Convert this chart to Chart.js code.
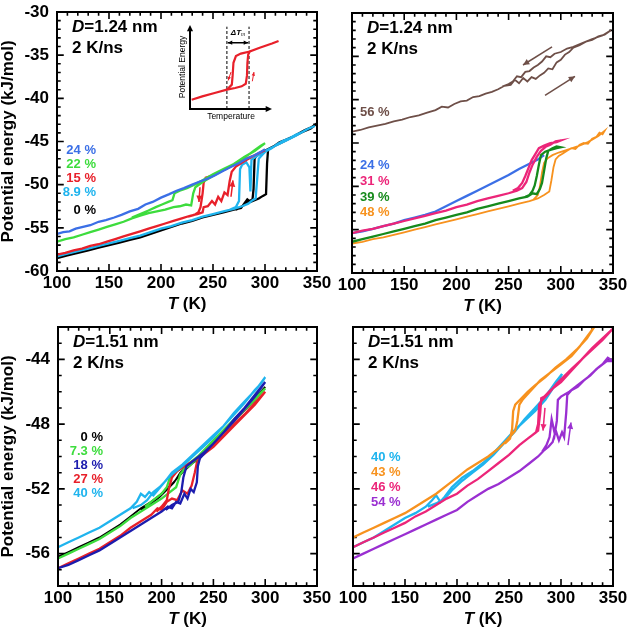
<!DOCTYPE html>
<html>
<head>
<meta charset="utf-8">
<script src="https://cdn.jsdelivr.net/npm/chart.js@4"></script>
<style>
  html, body { margin: 0; padding: 0; background: #fff; }
  body { width: 632px; height: 636px; position: relative; overflow: hidden; }
  canvas { position: absolute; }
</style>
</head>
<body>
<canvas id="c1" width="340" height="320" style="left:0px;top:0px"></canvas>
<canvas id="c2" width="312" height="320" style="left:320px;top:0px"></canvas>
<canvas id="c3" width="340" height="324" style="left:0px;top:312px"></canvas>
<canvas id="c4" width="312" height="324" style="left:320px;top:312px"></canvas>
<canvas id="inset" width="112" height="112" style="left:176px;top:16px"></canvas>
<script>
// tick labels
const xTicks = [100, 150, 200, 250, 300, 350];
const yTicksTop = [-60, -55, -50, -45, -40, -35, -30];
const yTicksBottom = [-56, -52, -48, -44];

// D = 1.24 nm, low concentrations (heating run, then cooling run back)
const d124_24 = [[100,-55.7],[106,-55.5],[112,-55.4],[118,-55.1],[125,-54.9],[132,-54.7],[140,-54.3],[147,-54.1],[155,-53.8],[162,-53.5],[170,-53.1],[178,-52.8],[185,-52.3],[192,-52.0],[200,-51.5],[208,-51.1],[215,-50.7],[222,-50.4],[230,-50.0],[238,-49.6],[245,-49.3],[252,-48.9],[260,-48.4],[268,-47.9],[275,-47.5],[282,-47.0],[290,-46.6],[296,-46.2],[300,-45.9]];
const d124_22 = [[100,-56.6],[108,-56.3],[116,-56.1],[124,-55.8],[132,-55.5],[140,-55.2],[148,-54.9],[156,-54.6],[164,-54.3],[172,-53.9],[180,-53.6],[188,-53.3],[196,-53.1],[204,-52.9],[212,-52.6],[218,-52.5],[224,-52.3],[229,-52.4],[231,-51.0],[233,-50.3],[240,-49.7],[250,-49.0],[260,-48.3],[270,-47.6],[280,-46.9],[290,-46.0],[296,-45.5],[300,-45.2],
  [298,-45.4],[290,-46.1],[280,-46.8],[270,-47.6],[260,-48.2],[250,-48.8],[240,-49.5],[232,-50.0],[225,-50.4],[218,-50.7],[213,-51.0],[211,-51.8],[207,-52.0],[201,-52.3],[195,-52.6],[188,-53.0],[180,-53.4],[172,-53.8]];
const d124_15 = [[100,-58.1],[108,-57.9],[116,-57.6],[124,-57.4],[132,-57.1],[140,-56.9],[148,-56.6],[156,-56.3],[164,-56.0],[172,-55.7],[180,-55.4],[188,-55.1],[196,-54.8],[204,-54.5],[212,-54.2],[220,-53.9],[228,-53.6],[235,-53.4],[240,-53.2],[241,-52.6],[245,-52.5],[249,-51.9],[252,-52.3],[255,-51.4],[258,-51.9],[261,-50.9],[264,-51.2],[266,-49.6],[268,-48.5],[272,-47.9],[280,-47.3],[290,-46.6],[300,-46.0],
  [290,-46.6],[280,-47.1],[270,-47.7],[262,-48.2],[255,-48.6],[248,-49.0],[243,-49.2],[241,-49.8],[240,-51.0],[239,-51.8],[238,-52.6],[236,-53.2],[232,-53.5],[226,-53.7]];
const d124_89 = [[100,-58.3],[110,-58.0],[120,-57.7],[130,-57.4],[140,-57.1],[150,-56.8],[160,-56.5],[170,-56.2],[180,-55.9],[190,-55.5],[200,-55.1],[210,-54.8],[220,-54.4],[230,-54.1],[240,-53.7],[250,-53.4],[260,-53.1],[270,-52.8],[278,-52.5],[284,-52.2],[288,-51.8],[291,-51.6],[293,-48.5],[294,-47.0],[297,-46.6],[300,-46.2],[306,-45.8],[312,-45.3],[318,-44.9],[324,-44.6],[330,-44.2],[336,-43.9],[342,-43.5],[348,-43.2],
  [340,-43.6],[330,-44.3],[320,-44.9],[310,-45.5],[300,-46.1],[292,-46.7],[287,-47.1],[286,-50.8],[285,-48.0],[282,-47.4],[278,-47.7],[276,-48.2],[275,-51.9],[272,-52.6],[266,-52.9]];
const d124_0 = [[100,-58.5],[110,-58.2],[120,-57.9],[130,-57.6],[140,-57.3],[150,-57.0],[160,-56.7],[170,-56.4],[180,-56.1],[190,-55.7],[200,-55.3],[210,-54.9],[220,-54.5],[230,-54.2],[240,-53.8],[250,-53.5],[260,-53.2],[270,-52.9],[277,-52.7],[280,-52.2],[283,-51.7],[286,-52.0],[290,-51.8],[294,-51.6],[298,-51.3],[301,-51.1],[302,-47.5],[303,-45.9],[308,-45.6],[314,-45.1],[320,-44.8],[326,-44.5],[332,-44.1],[338,-43.7],[344,-43.4],[350,-42.9],
  [344,-43.5],[336,-43.9],[326,-44.5],[316,-45.1],[306,-45.7],[298,-46.2],[292,-46.6],[290,-47.0],[289,-50.5],[288,-51.7],[284,-52.0],[278,-52.5],[272,-52.9]];
const arr124_down = [[237.5,-50.3],[236.5,-52.0]];
const arr124_up = [[267.3,-51.4],[269.2,-49.5]];

// D = 1.24 nm, high concentrations
const d124_56 = [[100,-43.7],[108,-43.5],[116,-43.2],[124,-43.0],[132,-42.8],[140,-42.5],[148,-42.3],[156,-42.0],[164,-41.8],[172,-41.5],[180,-41.2],[186,-40.8],[192,-40.9],[198,-40.5],[204,-40.2],[210,-40.1],[216,-39.7],[222,-39.6],[228,-39.3],[234,-39.1],[240,-38.8],[246,-38.4],[252,-38.3],[256,-37.7],[260,-38.1],[264,-37.5],[268,-37.9],[272,-37.4],[276,-37.6],[280,-37.2],[284,-36.9],[288,-36.4],[292,-36.5],[296,-35.7],[300,-35.4],[304,-34.8],[308,-34.5],[312,-34.0],[318,-33.7],[324,-33.3],[330,-33.1],[336,-32.7],[342,-32.5],[348,-32.0],
  [340,-32.6],[330,-33.0],[320,-33.5],[312,-33.9],[306,-34.1],[300,-34.5],[294,-34.7],[290,-35.1],[286,-35.0],[282,-35.6],[278,-36.0],[274,-36.3],[270,-36.7],[266,-36.8],[262,-37.4],[258,-37.3],[254,-37.9],[250,-38.2],[244,-38.5]];
const d124_24b = [[100,-55.4],[110,-55.2],[120,-54.9],[130,-54.6],[140,-54.3],[150,-53.9],[160,-53.6],[170,-53.3],[180,-52.9],[190,-52.3],[200,-51.7],[210,-51.1],[220,-50.5],[230,-49.9],[240,-49.3],[250,-48.7],[260,-48.0],[270,-47.4],[278,-46.9],[284,-46.4]];
const d124_31 = [[100,-55.4],[110,-55.1],[120,-54.9],[130,-54.6],[140,-54.3],[150,-54.0],[160,-53.7],[170,-53.4],[180,-53.1],[190,-52.8],[200,-52.4],[210,-52.1],[220,-51.7],[230,-51.4],[240,-51.1],[250,-50.8],[258,-50.5],[263,-50.2],[267,-49.5],[270,-48.4],[273,-47.5],[277,-46.6],[281,-45.9],[286,-45.4],[290,-45.2],[295,-44.8],[300,-44.7],
  [296,-44.9],[290,-45.0],[284,-45.3],[279,-45.6],[276,-46.2],[272,-47.0],[269,-47.9],[266,-48.8],[263,-49.6],[259,-50.2],[254,-50.5]];
const d124_39 = [[100,-56.4],[110,-56.1],[120,-55.8],[130,-55.5],[140,-55.2],[150,-54.9],[160,-54.6],[170,-54.3],[180,-53.9],[190,-53.6],[200,-53.3],[210,-53.0],[220,-52.6],[230,-52.3],[240,-52.0],[250,-51.7],[260,-51.4],[268,-51.2],[273,-50.8],[277,-50.9],[280,-50.3],[282,-49.6],[284,-48.2],[286,-46.8],[288,-45.9],[292,-45.6],[296,-45.4],[300,-45.5],
  [296,-45.6],[290,-45.8],[285,-46.0],[281,-46.4],[279,-47.5],[277,-48.8],[275,-49.9],[273,-50.5],[270,-51.0],[266,-51.2]];
const d124_48 = [[100,-56.6],[110,-56.4],[120,-56.1],[130,-55.9],[140,-55.6],[150,-55.3],[160,-55.0],[170,-54.7],[180,-54.4],[190,-54.1],[200,-53.8],[210,-53.5],[220,-53.2],[230,-52.9],[240,-52.6],[250,-52.3],[260,-52.0],[270,-51.7],[278,-51.4],[284,-51.0],[289,-50.6],[291,-49.3],[293,-47.8],[295,-46.9],[298,-46.5],[302,-46.2],[306,-45.9],[310,-45.6],[314,-45.7],[318,-45.2],[322,-45.0],[326,-45.1],[330,-44.5],[334,-44.3],[337,-43.8],[340,-44.0],[342,-43.6],
  [336,-44.2],[326,-44.9],[316,-45.4],[306,-45.8],[298,-46.1],[292,-46.4],[287,-46.8],[284,-47.3],[282,-48.4],[280,-50.0],[278,-51.0],[274,-51.5]];
const arr124_cool = [[291.6,-33.9],[263.8,-36.0]];
const arr124_heat = [[284.9,-39.5],[313.6,-37.3]];

// D = 1.51 nm, low concentrations
const d151_0 = [[100,-56.2],[110,-55.9],[120,-55.6],[130,-55.3],[140,-55.0],[150,-54.6],[160,-54.2],[170,-53.7],[180,-53.2],[190,-52.8],[200,-52.3],[210,-51.7],[220,-51.0],[230,-50.4],[240,-49.8],[250,-49.1],[260,-48.4],[270,-47.8],[280,-47.1],[290,-46.4],[300,-45.7],
  [290,-46.5],[270,-47.8],[250,-49.2],[235,-50.2],[225,-50.6],[218,-51.0],[212,-51.6],[206,-52.0],[198,-52.5],[190,-52.9],[180,-53.3]];
const d151_73 = [[100,-56.3],[110,-56.0],[120,-55.7],[130,-55.4],[140,-55.1],[150,-54.7],[160,-54.3],[170,-53.8],[180,-53.4],[190,-53.0],[200,-52.6],[208,-52.2],[214,-51.9],[218,-51.1],[222,-50.8],[228,-50.5],[235,-50.1],[240,-49.8],[250,-49.1],[260,-48.5],[270,-47.8],[280,-47.1],[290,-46.5],[300,-45.8],
  [290,-46.4],[270,-47.7],[250,-49.0],[235,-50.0],[225,-50.5],[215,-50.9],[208,-51.3],[205,-51.9],[200,-52.3],[192,-52.7],[184,-53.1]];
const d151_18 = [[100,-56.9],[110,-56.7],[120,-56.4],[130,-56.1],[140,-55.8],[150,-55.4],[160,-55.0],[170,-54.6],[180,-54.2],[190,-53.8],[200,-53.4],[206,-53.1],[210,-53.2],[214,-52.8],[218,-52.9],[222,-52.3],[225,-52.6],[228,-52.0],[231,-52.2],[234,-51.6],[235,-50.6],[237,-50.1],[240,-49.9],[250,-49.2],[260,-48.5],[270,-47.7],[280,-47.0],[290,-46.2],[300,-45.4],
  [290,-46.3],[270,-47.8],[250,-49.2],[240,-49.8],[232,-50.2],[228,-50.4],[224,-50.6],[221,-51.3],[219,-52.2],[216,-52.8],[210,-53.0],[204,-53.3]];
const d151_27 = [[100,-56.9],[110,-56.6],[120,-56.3],[130,-56.0],[140,-55.7],[150,-55.3],[160,-54.9],[170,-54.4],[180,-54.0],[190,-53.6],[196,-53.2],[200,-53.3],[205,-52.8],[210,-52.6],[215,-52.7],[220,-52.1],[225,-52.3],[229,-51.8],[232,-51.0],[234,-50.4],[238,-50.0],[245,-49.6],[250,-49.3],[260,-48.7],[270,-48.0],[280,-47.4],[290,-46.7],[300,-46.0],
  [290,-46.8],[270,-48.1],[250,-49.4],[240,-49.9],[230,-50.3],[222,-50.6],[215,-50.9],[210,-51.3],[207,-52.0],[205,-52.7],[200,-53.1],[195,-53.4]];
const d151_40 = [[100,-55.6],[110,-55.3],[120,-55.0],[130,-54.7],[140,-54.4],[150,-54.0],[160,-53.6],[170,-53.2],[176,-52.8],[180,-52.3],[184,-52.5],[188,-52.2],[192,-52.4],[196,-52.1],[200,-51.8],[205,-51.4],[210,-51.1],[220,-50.6],[230,-50.0],[240,-49.4],[250,-48.8],[260,-48.1],[270,-47.4],[280,-46.7],[290,-45.9],[296,-45.5],[300,-45.1],
  [292,-45.8],[280,-46.6],[270,-47.3],[260,-48.1],[250,-48.7],[240,-49.3],[230,-49.9],[220,-50.5],[210,-51.0],[204,-51.5],[198,-51.9],[192,-52.2],[186,-52.7],[180,-53.0],[172,-53.2]];

// D = 1.51 nm, high concentrations
const d151_40b = [[100,-55.6],[110,-55.3],[120,-55.0],[130,-54.6],[140,-54.2],[150,-53.8],[160,-53.5],[170,-53.1],[176,-52.7],[180,-52.4],[184,-52.8],[188,-52.5],[195,-51.9],[205,-51.3],[215,-50.9],[225,-50.4],[235,-49.8],[245,-49.1],[255,-48.4],[265,-47.8],[275,-47.2],[285,-46.5],[292,-45.8],[297,-45.4],[301,-44.9],
  [295,-45.4],[285,-46.3],[275,-47.0],[265,-47.7],[255,-48.5],[245,-49.2],[235,-49.9],[225,-50.5],[215,-51.0],[205,-51.5],[195,-52.1],[188,-52.6],[180,-52.9],[172,-53.1]];
const d151_43 = [[100,-55.0],[110,-54.7],[120,-54.4],[130,-54.1],[140,-53.8],[150,-53.5],[160,-53.1],[170,-52.7],[180,-52.3],[190,-51.8],[200,-51.3],[210,-50.8],[220,-50.4],[230,-50.0],[240,-49.5],[248,-49.0],[252,-48.7],[256,-48.4],[258,-47.8],[260,-46.8],[263,-46.5],[270,-46.0],[280,-45.3],[290,-44.8],[300,-44.3],[310,-43.8],[318,-43.2],[325,-42.6],[332,-42.0],
  [325,-42.7],[315,-43.4],[305,-44.0],[295,-44.5],[285,-45.1],[275,-45.6],[268,-46.0],[262,-46.4],[256,-46.8],[254,-47.2],[253,-48.3],[251,-48.9],[246,-49.2]];
const d151_46 = [[100,-55.6],[110,-55.3],[120,-55.0],[130,-54.7],[140,-54.4],[150,-54.1],[160,-53.7],[170,-53.4],[180,-53.0],[190,-52.6],[200,-52.3],[210,-51.8],[220,-51.4],[230,-50.9],[240,-50.4],[250,-49.9],[260,-49.3],[268,-48.9],[274,-48.6],[278,-48.4],[280,-47.3],[281,-46.4],[284,-46.3],[290,-45.9],[300,-45.4],[310,-44.7],[320,-44.0],[330,-43.3],[340,-42.7],[350,-42.1],
  [340,-42.8],[325,-43.7],[310,-44.6],[296,-45.5],[288,-46.1],[282,-46.5],[279,-46.8],[278,-48.0],[276,-48.5],[270,-48.8]];
const d151_54 = [[100,-56.3],[110,-56.0],[120,-55.7],[130,-55.4],[140,-55.1],[150,-54.8],[160,-54.5],[170,-54.2],[180,-53.9],[190,-53.6],[200,-53.3],[210,-52.8],[220,-52.4],[230,-52.0],[240,-51.7],[250,-51.3],[260,-50.9],[270,-50.4],[278,-50.0],[284,-49.6],[288,-49.4],[292,-49.1],[295,-48.4],[298,-49.0],[301,-48.5],[303,-48.8],[305,-47.3],[306,-46.2],[310,-45.9],[316,-45.7],[322,-45.3],[328,-45.0],[334,-44.6],[340,-44.3],[345,-43.9],[350,-44.1],
  [344,-44.1],[336,-44.5],[326,-45.1],[316,-45.6],[308,-46.0],[300,-46.3],[297,-46.5],[296,-47.8],[294,-48.6],[291,-47.7],[289,-48.8],[286,-49.3],[282,-49.7]];
const arr151_pink = [[284.6,-47.0],[282.7,-48.4]];
const arr151_purple = [[306.7,-49.3],[309.6,-47.9]];

// inset sketch (arbitrary units)
const insetHeat = [[0.2,1.1],[1.5,1.5],[3,1.9],[4.5,2.3],[5.5,2.5],[6.3,2.7],[6.8,3.0],[6.95,4.0],[7.0,5.5],[7.1,6.5],[7.3,6.85],[8.5,7.3],[10,7.8],[10.8,8.1]];
const insetCool = [[7.3,6.85],[6.2,6.6],[5.6,6.3],[5.3,5.5],[5.2,4.0],[5.1,2.9],[4.5,2.3]];
const insetDash = [4.5, 7.2];
const insetSpanY = 7.9;

const FONT = '"Liberation Sans", Arial, sans-serif';
const BLUE = '#3b6fe6', GREEN = '#3ddc3d', RED = '#e8202a', CYAN = '#1fb4ee', BLACK = '#000000';
const BROWN = '#6e4f48', PINK = '#ec2579', DKGREEN = '#168a1c', ORANGE = '#f7921e';
const NAVY = '#1c1cae', PURPLE = '#9a2fd1';

function arrowHead(ctx, x, y, ang, size) {
    ctx.beginPath();
    ctx.moveTo(x, y);
    ctx.lineTo(x - size * Math.cos(ang - 0.45), y - size * Math.sin(ang - 0.45));
    ctx.lineTo(x - size * Math.cos(ang + 0.45), y - size * Math.sin(ang + 0.45));
    ctx.closePath();
    ctx.fill();
}

// arrow heads at the end of datasets flagged with arrow
const arrowPlugin = {
    id: 'arrowHeads',
    afterDatasetsDraw(chart) {
        const ctx = chart.ctx;
        chart.data.datasets.forEach((ds, i) => {
            if (!ds.arrow) return;
            const pts = chart.getDatasetMeta(i).data;
            const n = pts.length;
            ctx.save();
            ctx.fillStyle = ds.borderColor;
            const a = Math.atan2(pts[n - 1].y - pts[n - 2].y, pts[n - 1].x - pts[n - 2].x);
            arrowHead(ctx, pts[n - 1].x, pts[n - 1].y, a, ds.arrowSize || 7);
            if (ds.arrow === 'both') {
                const b = Math.atan2(pts[0].y - pts[1].y, pts[0].x - pts[1].x);
                arrowHead(ctx, pts[0].x, pts[0].y, b, ds.arrowSize || 7);
            }
            ctx.restore();
        });
    }
};

// inward tick marks on all four sides, as one broken line through the scales
// xLen: tick length in y units, yLen: tick length in K
function tickMarks(p) {
    const pts = [];
    const gap = () => pts.push({ x: null, y: null });
    for (let v = 110; v < 350; v += 10) {
        const len = xTicks.includes(v) ? p.xLen : p.xLen * 0.55;
        pts.push({ x: v, y: p.yMin }, { x: v, y: p.yMin + len }); gap();
        pts.push({ x: v, y: p.yMax }, { x: v, y: p.yMax - len }); gap();
    }
    for (let v = p.yMin + 1; v < p.yMax; v += 1) {
        const len = p.yMajor.includes(v) ? p.yLen : p.yLen * 0.55;
        pts.push({ x: 100, y: v }, { x: 100 + len, y: v }); gap();
        pts.push({ x: 350, y: v }, { x: 350 - len, y: v }); gap();
    }
    return pts;
}

// frame box, panel texts, x-axis title
function drawDecor(chart, p) {
    const { ctx, chartArea: a } = chart;
    ctx.save();
    ctx.strokeStyle = '#000';
    ctx.lineWidth = 2;
    ctx.strokeRect(a.left, a.top, a.right - a.left, a.bottom - a.top);

    const t = p.text;
    ctx.fillStyle = '#000';
    ctx.textBaseline = 'middle';
    ctx.textAlign = 'left';
    ctx.font = 'italic bold 17px ' + FONT;
    ctx.fillText('D', a.left + 15, a.top + 15);
    const dw = ctx.measureText('D').width;
    ctx.font = 'bold 17px ' + FONT;
    ctx.fillText('=' + t.d + ' nm', a.left + 15 + dw, a.top + 15);
    ctx.fillText('2 K/ns', a.left + 15, a.top + 36);

    ctx.font = 'bold 13px ' + FONT;
    ctx.textAlign = t.align;
    t.labels.forEach((lab, i) => {
        ctx.fillStyle = t.colors[i];
        ctx.fillText(lab, a.left + t.lx, a.top + t.ly[i]);
    });

    ctx.fillStyle = '#000';
    ctx.textAlign = 'left';
    ctx.font = 'italic bold 17px ' + FONT;
    const w1 = ctx.measureText('T').width;
    ctx.font = 'bold 17px ' + FONT;
    const w2 = ctx.measureText(' (K)').width;
    const cx = (a.left + a.right) / 2 - (w1 + w2) / 2;
    const cy = a.bottom + 33;
    ctx.font = 'italic bold 17px ' + FONT;
    ctx.fillText('T', cx, cy);
    ctx.font = 'bold 17px ' + FONT;
    ctx.fillText(' (K)', cx + w1, cy);
    ctx.restore();
}

function makePanel(id, p) {
    const datasets = p.series.map(s => ({
        data: s.pts.map(q => ({ x: q[0], y: q[1] })),
        borderColor: s.color,
        borderWidth: s.width || 2.3,
        showLine: true,
        pointRadius: 0,
        arrow: s.arrow
    }));
    datasets.push({
        data: tickMarks(p),
        borderColor: '#000',
        borderWidth: 1.6,
        showLine: true,
        spanGaps: false,
        pointRadius: 0
    });
    const tickFont = { family: FONT, size: 17, weight: 'bold' };
    const decor = {
        id: 'decor',
        afterDraw(chart) { drawDecor(chart, p); }
    };
    new Chart(document.getElementById(id), {
        type: 'scatter',
        data: { datasets },
        options: {
            responsive: false,
            animation: false,
            events: [],
            layout: { padding: { left: 0, top: p.padTop, right: p.padRight, bottom: 0 } },
            plugins: { legend: { display: false }, tooltip: { enabled: false } },
            scales: {
                x: {
                    type: 'linear', min: 100, max: 350,
                    afterBuildTicks: s => { s.ticks = xTicks.map(v => ({ value: v })); },
                    afterFit: s => { s.height = p.xHeight; s.paddingLeft = 0; s.paddingRight = 0; },
                    grid: { display: false, drawTicks: false },
                    border: { display: false },
                    ticks: { font: tickFont, color: '#000', padding: 2, maxRotation: 0, autoSkip: false }
                },
                y: {
                    type: 'linear', min: p.yMin, max: p.yMax,
                    afterBuildTicks: s => { s.ticks = p.yLabels.map(v => ({ value: v })); },
                    afterFit: s => { s.width = p.yWidth; s.paddingTop = 0; s.paddingBottom = 0; },
                    grid: { display: false, drawTicks: false },
                    border: { display: false },
                    ticks: { display: p.showY, font: tickFont, color: '#000', padding: 8, autoSkip: false },
                    title: {
                        display: p.showY, text: 'Potential energy (kJ/mol)', color: '#000', padding: 0,
                        font: { family: FONT, size: 17, weight: 'bold', lineHeight: 1.0 }
                    }
                }
            }
        },
        plugins: [arrowPlugin, decor]
    });
}

makePanel('c1', {
    padTop: 12, padRight: 23, xHeight: 49, yWidth: 57, showY: true,
    yMin: -60, yMax: -30, yMajor: yTicksTop, yLabels: yTicksTop, xLen: 0.8, yLen: 6.5,
    series: [
        { pts: arr124_down, color: RED, width: 1.5, arrow: true },
        { pts: arr124_up, color: RED, width: 1.5, arrow: true },
        { pts: d124_24, color: BLUE },
        { pts: d124_22, color: GREEN },
        { pts: d124_15, color: RED },
        { pts: d124_89, color: CYAN },
        { pts: d124_0, color: BLACK }
    ],
    text: { d: '1.24', align: 'right', lx: 39, ly: [138, 152, 166, 180, 198],
        labels: ['24 %', '22 %', '15 %', '8.9 %', '0 %'], colors: [BLUE, GREEN, RED, CYAN, BLACK] }
});

makePanel('c2', {
    padTop: 13, padRight: 19, xHeight: 47, yWidth: 32, showY: false,
    yMin: -60, yMax: -30, yMajor: yTicksTop, yLabels: yTicksTop, xLen: 0.8, yLen: 6.5,
    series: [
        { pts: arr124_cool, color: BROWN, width: 1.5, arrow: true },
        { pts: arr124_heat, color: BROWN, width: 1.5, arrow: true },
        { pts: d124_56, color: BROWN, width: 1.8 },
        { pts: d124_31, color: PINK },
        { pts: d124_39, color: DKGREEN },
        { pts: d124_24b, color: BLUE },
        { pts: d124_48, color: ORANGE, width: 1.8 }
    ],
    text: { d: '1.24', align: 'left', lx: 8, ly: [99, 152, 168, 184, 199],
        labels: ['56 %', '24 %', '31 %', '39 %', '48 %'], colors: [BROWN, BLUE, PINK, DKGREEN, ORANGE] }
});

makePanel('c3', {
    padTop: 15, padRight: 23, xHeight: 50, yWidth: 58, showY: true,
    yMin: -58, yMax: -42, yMajor: yTicksBottom, yLabels: yTicksBottom, xLen: 0.43, yLen: 6.5,
    series: [
        { pts: d151_18, color: NAVY },
        { pts: d151_40, color: CYAN },
        { pts: d151_27, color: RED },
        { pts: d151_73, color: GREEN },
        { pts: d151_0, color: BLACK, width: 1.8 }
    ],
    text: { d: '1.51', align: 'right', lx: 45, ly: [110, 124, 138, 152, 166],
        labels: ['0 %', '7.3 %', '18 %', '27 %', '40 %'], colors: [BLACK, GREEN, NAVY, RED, CYAN] }
});

makePanel('c4', {
    padTop: 15, padRight: 19, xHeight: 50, yWidth: 33, showY: false,
    yMin: -58, yMax: -42, yMajor: yTicksBottom, yLabels: yTicksBottom, xLen: 0.43, yLen: 6.5,
    series: [
        { pts: arr151_pink, color: PINK, width: 1.5, arrow: true },
        { pts: arr151_purple, color: PURPLE, width: 1.5, arrow: true },
        { pts: d151_54, color: PURPLE },
        { pts: d151_46, color: PINK },
        { pts: d151_43, color: ORANGE },
        { pts: d151_40b, color: CYAN }
    ],
    text: { d: '1.51', align: 'left', lx: 18, ly: [130, 145, 160, 175],
        labels: ['40 %', '43 %', '46 %', '54 %'], colors: [CYAN, ORANGE, PINK, PURPLE] }
});

// inset: axes, labels, delta T label
const insetPlugin = {
    id: 'insetAxes',
    afterDatasetsDraw(chart) {
        const { ctx, scales: { x, y } } = chart;
        const x0 = x.getPixelForValue(0), y0 = y.getPixelForValue(0);
        const xe = x.getPixelForValue(10), ye = y.getPixelForValue(10);
        ctx.save();
        ctx.strokeStyle = '#000';
        ctx.fillStyle = '#000';
        ctx.lineWidth = 2;
        ctx.beginPath();
        ctx.moveTo(x0, ye + 4); ctx.lineTo(x0, y0); ctx.lineTo(xe - 4, y0);
        ctx.stroke();
        arrowHead(ctx, x0, ye, -Math.PI / 2, 7);
        arrowHead(ctx, xe, y0, 0, 7);
        ctx.font = '8.5px ' + FONT;
        ctx.textAlign = 'center';
        ctx.textBaseline = 'middle';
        ctx.fillText('Temperature', (x0 + xe) / 2, y0 + 8);
        ctx.save();
        ctx.translate(x0 - 7, (y0 + ye) / 2);
        ctx.rotate(-Math.PI / 2);
        ctx.fillText('Potential Energy', 0, 0);
        ctx.restore();
        const lx = x.getPixelForValue((insetDash[0] + insetDash[1]) / 2);
        const ly = y.getPixelForValue(9.1);
        ctx.font = 'italic bold 8px ' + FONT;
        const w = ctx.measureText('\u0394T').width;
        ctx.textAlign = 'left';
        ctx.fillText('\u0394T', lx - w / 2 - 2, ly);
        ctx.font = 'italic 5px ' + FONT;
        ctx.fillText('m', lx + w / 2 - 2, ly + 2.5);
        ctx.restore();
    }
};

new Chart(document.getElementById('inset'), {
    type: 'scatter',
    data: {
        datasets: [
            { data: insetHeat.map(q => ({ x: q[0], y: q[1] })), borderColor: RED, borderWidth: 2.2, showLine: true, pointRadius: 0 },
            { data: insetCool.map(q => ({ x: q[0], y: q[1] })), borderColor: RED, borderWidth: 2.2, showLine: true, pointRadius: 0 },
            { data: [{ x: insetDash[0], y: 0 }, { x: insetDash[0], y: 9.8 }], borderColor: '#000', borderWidth: 1, borderDash: [3, 2], showLine: true, pointRadius: 0 },
            { data: [{ x: insetDash[1], y: 0 }, { x: insetDash[1], y: 9.8 }], borderColor: '#000', borderWidth: 1, borderDash: [3, 2], showLine: true, pointRadius: 0 },
            { data: [{ x: insetDash[0] + 0.1, y: insetSpanY }, { x: insetDash[1] - 0.1, y: insetSpanY }], borderColor: '#000', borderWidth: 1.5, showLine: true, pointRadius: 0, arrow: 'both', arrowSize: 5 },
            { data: [{ x: 5.0, y: 4.4 }, { x: 4.65, y: 3.4 }], borderColor: RED, borderWidth: 1, showLine: true, pointRadius: 0, arrow: true, arrowSize: 4 },
            { data: [{ x: 7.6, y: 3.3 }, { x: 7.8, y: 4.4 }], borderColor: RED, borderWidth: 1, showLine: true, pointRadius: 0, arrow: true, arrowSize: 4 }
        ]
    },
    options: {
        responsive: false,
        animation: false,
        events: [],
        layout: { padding: { left: 14, top: 9, right: 7.8, bottom: 19 } },
        plugins: { legend: { display: false }, tooltip: { enabled: false } },
        scales: {
            x: { type: 'linear', min: 0, max: 11, display: false },
            y: { type: 'linear', min: 0, max: 10, display: false }
        }
    },
    plugins: [arrowPlugin, insetPlugin]
});
</script>
</body>
</html>
